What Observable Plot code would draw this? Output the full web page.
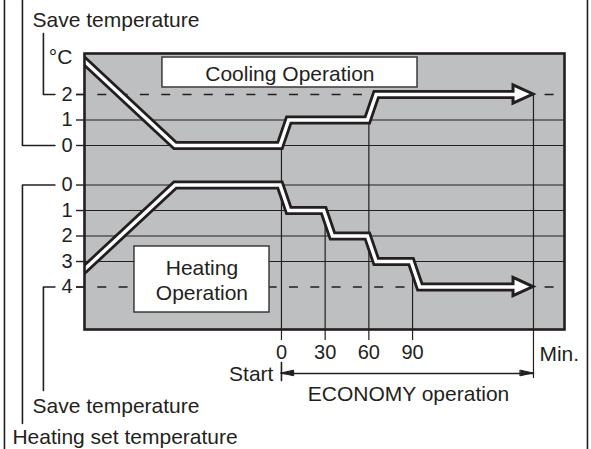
<!DOCTYPE html>
<html><head><meta charset="utf-8">
<script src="https://cdn.jsdelivr.net/npm/d3@7"></script>
<script src="https://cdn.jsdelivr.net/npm/@observablehq/plot@0.6"></script>
<style>html,body{margin:0;padding:0;background:#fff;}</style>
</head><body><div id="chart"></div>
<script>
// ---------------- data ----------------
const minuteTicks = [0, 30, 60, 90];            // x tick labels (min)
const economyEnd = 173;                          // minute where both arrows end
const coolingLevels = [0, 1, 2];                 // cooling offset labels (°C)
const heatingLevels = [0, 1, 2, 3, 4];           // heating offset labels (°C)
const coolingSave = 2;
const heatingSave = 4;
// cooling operation curve (minutes, °C above set temperature)
const coolingMin = [-136, -73, -1, 5, 59, 65, 173];
const coolingDeg = [3.35, 0, 0, 1, 1, 2, 2];
// heating operation curve (minutes, °C below set temperature)
const heatingMin = [-136, -73, -1, 5, 29, 35, 59, 65, 89, 95, 173];
const heatingDeg = [3.35, 0, 0, 1, 1, 2, 2, 3, 3, 4, 4];
// vertical time markers: minute, which curve, level they start from
const markerMin = [0, 30, 60, 90, 173];
const markerCurve = ["cooling", "heating", "cooling", "heating", "cooling"];
const markerDeg = [0, 1, 1, 3, 2];
// texts
const unitLabel = "°C";
const minuteLabel = "Min.";
const coolingTitle = "Cooling Operation";
const heatingTitle = "Heating\nOperation";
const saveLabel = "Save temperature";
const heatingSetLabel = "Heating set temperature";
const startLabel = "Start";
const economyLabel = "ECONOMY operation";

// ---------------- layout ----------------
const INK = "#231f20", GRAY = "#bdbfc1";
const HEAT0 = -1.55;                         // vertical offset of heating block
const cu = c => c;                           // cooling level -> y
const hu = h => HEAT0 - h;                   // heating level -> y
const xDomain = [-135.2, 194.3];
const yDomain = [-7.216, 3.608];
const FONT = "Liberation Sans, Arial, Helvetica, sans-serif";

const cooling = coolingMin.map((t, i) => ({t, y: cu(coolingDeg[i])}));
const heating = heatingMin.map((t, i) => ({t, y: hu(heatingDeg[i])}));
const headLen = 13.7, headHalf = 0.36, whiteExtra = 1.4;
function toBase(path, extra) {
  const last = path[path.length - 1];
  return path.slice(0, -1).concat({t: last.t - headLen + extra, y: last.y});
}
function head(path) {
  const last = path[path.length - 1];
  return [{t: last.t - headLen, y1: last.y - headHalf, y2: last.y + headHalf},
          {t: last.t, y1: last.y, y2: last.y}];
}
function curveMarks(path) {
  return [
    Plot.line(toBase(path, 0), {x: "t", y: "y", stroke: INK, strokeWidth: 9, strokeLinejoin: "miter", strokeMiterlimit: 10, clip: true}),
    Plot.areaY(head(path), {x: "t", y1: "y1", y2: "y2", fill: "white", stroke: INK, strokeWidth: 3, strokeLinejoin: "miter", strokeMiterlimit: 10}),
    Plot.line(toBase(path, whiteExtra), {x: "t", y: "y", stroke: "white", strokeWidth: 3.4, strokeLinejoin: "miter", strokeMiterlimit: 10, clip: true})
  ];
}

const solid = [
  ...coolingLevels.filter(c => c !== coolingSave).map(cu),
  ...heatingLevels.filter(h => h !== heatingSave).map(hu)
];
const dashed = [cu(coolingSave), hu(heatingSave)];

const yTicks = [...coolingLevels.map(c => [cu(c), c]), ...heatingLevels.map(h => [hu(h), h])];
const yLabel = new Map(yTicks);

const markers = markerMin.map((t, i) => ({
  t, top: markerCurve[i] === "cooling" ? cu(markerDeg[i]) : hu(markerDeg[i]),
  bottom: t === economyEnd ? -9.14 : -7.65
}));

const arrowY = -8.94;
const leaders = [
  {g: 1, t: -177.8, y: 5.69}, {g: 1, t: -177.8, y: cu(0)}, {g: 1, t: -155.5, y: cu(0)},
  {g: 2, t: -163.4, y: 4.39}, {g: 2, t: -163.4, y: cu(coolingSave)}, {g: 2, t: -155.5, y: cu(coolingSave)},
  {g: 3, t: -155.5, y: hu(0)}, {g: 3, t: -177.8, y: hu(0)}, {g: 3, t: -177.8, y: -10.9},
  {g: 4, t: -155.5, y: hu(heatingSave)}, {g: 4, t: -163.4, y: hu(heatingSave)}, {g: 4, t: -163.4, y: -9.61},
  {g: 5, t: -190.15, y: 5.69}, {g: 5, t: -190.15, y: -11.92},
  {g: 6, t: 210.06, y: 5.69}, {g: 6, t: 210.06, y: -11.92},
  {g: 7, t: 0, y: -8.51}, {g: 7, t: 0, y: -9.22},
  {g: 8, t: 0, y: arrowY}, {g: 8, t: economyEnd, y: arrowY}
];
const spanHeads = [
  [{t: 0, y1: arrowY, y2: arrowY}, {t: 8.7, y1: arrowY - 0.11, y2: arrowY + 0.11}],
  [{t: economyEnd - 8.7, y1: arrowY - 0.11, y2: arrowY + 0.11}, {t: economyEnd, y1: arrowY, y2: arrowY}]
];

const texts = [
  {t: -170.9, y: 4.98, s: saveLabel, a: "start"},
  {t: -143.5, y: 3.53, s: unitLabel, a: "end"},
  {t: 5.8, y: 2.86, s: coolingTitle, a: "middle"},
  {t: -54.6, y: -5.25, s: heatingTitle, a: "middle"},
  {t: -5.5, y: -8.90, s: startLabel, a: "end"},
  {t: 177.1, y: -8.12, s: minuteLabel, a: "start"},
  {t: 87.2, y: -9.69, s: economyLabel, a: "middle"},
  {t: -170.9, y: -10.16, s: saveLabel, a: "start"},
  {t: -184.7, y: -11.40, s: heatingSetLabel, a: "start"}
];
const textMarks = ["start", "middle", "end"].map(a =>
  Plot.text(texts.filter(d => d.a === a), {x: "t", y: "y", text: "s", textAnchor: a, fontSize: 21, fill: INK, lineHeight: 1.2}));

const boxes = [
  {x1: -81.7, x2: 93.4, y1: 3.45, y2: 2.275},
  {x1: -100.9, x2: -8.2, y1: -3.96, y2: -6.55}
];

const chart = Plot.plot({
  width: 591, height: 449,
  marginLeft: 84, marginRight: 27, marginTop: 53, marginBottom: 120,
  x: {domain: xDomain},
  y: {domain: yDomain},
  style: {fontFamily: FONT, fontSize: "20px", color: INK, background: "white"},
  marks: [
    Plot.frame({fill: GRAY, stroke: "none"}),
    Plot.ruleY(solid, {stroke: INK, strokeWidth: 1.2}),
    Plot.ruleY(dashed, {x1: -140.7, x2: 188.1, stroke: INK, strokeWidth: 1.4, strokeDasharray: "9,12.3"}),
    Plot.ruleX(markers, {x: "t", y1: "top", y2: "bottom", stroke: INK, strokeWidth: 1.2}),
    Plot.rect(boxes, {x1: "x1", x2: "x2", y1: "y1", y2: "y2", fill: "white", stroke: "#3a3a3a", strokeWidth: 1.5}),
    ...curveMarks(cooling),
    ...curveMarks(heating),
    Plot.line(leaders, {x: "t", y: "y", z: "g", stroke: INK, strokeWidth: 1.6}),
    ...spanHeads.map(h => Plot.areaY(h, {x: "t", y1: "y1", y2: "y2", fill: INK, stroke: INK, strokeWidth: 1})),
    ...textMarks,
    Plot.axisY(yTicks.map(d => d[0]), {anchor: "left", tickSize: 8, tickPadding: 4, tickFormat: v => yLabel.get(v), label: null, stroke: INK, strokeWidth: 1.4, fontSize: 20}),
    Plot.axisX(minuteTicks, {anchor: "bottom", tickSize: 0, tickPadding: 15, label: null, fontSize: 20}),
    Plot.frame({stroke: INK, strokeWidth: 2.6})
  ]
});
document.getElementById("chart").appendChild(chart);
</script>
</body></html>
